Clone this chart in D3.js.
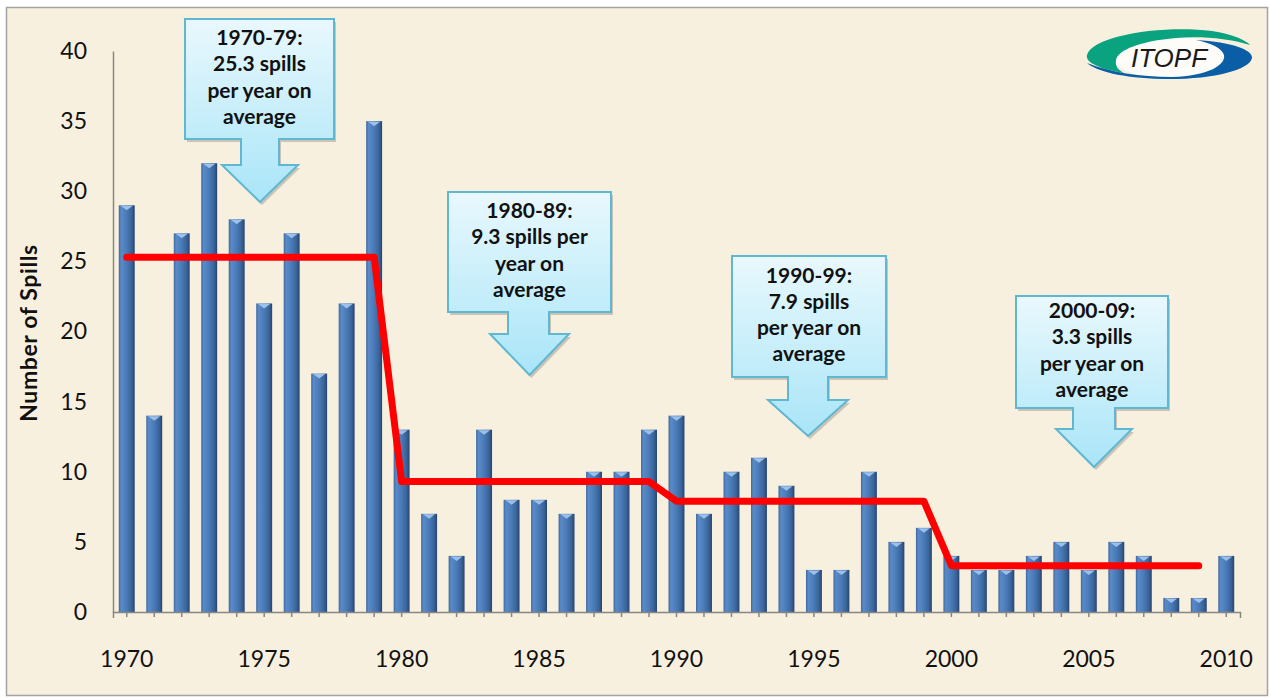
<!DOCTYPE html>
<html>
<head>
<meta charset="utf-8">
<script src="https://cdn.jsdelivr.net/npm/d3@7"></script>
<style>
  body { margin: 0; background: #fff; }
  svg { display: block; }
  text { font-family: Lato, "Open Sans", sans-serif; }
</style>
</head>
<body>
<svg id="chart" width="1271" height="698"></svg>
<script>
// data
const years = d3.range(1970, 2011);
const spills = [29, 14, 27, 32, 28, 22, 27, 17, 22, 35,
                13, 7, 4, 13, 8, 8, 7, 10, 10, 13,
                14, 7, 10, 11, 9, 3, 3, 10, 5, 6,
                4, 3, 3, 4, 5, 3, 5, 4, 1, 1,
                4];
const decadeStart = [1970, 1980, 1990, 2000];
const decadeEnd = [1979, 1989, 1999, 2009];
const decadeAvg = [25.3, 9.3, 7.9, 3.3];
const yTicks = [0, 5, 10, 15, 20, 25, 30, 35, 40];
const xLabelYears = [1970, 1975, 1980, 1985, 1990, 1995, 2000, 2005, 2010];
const calloutText = [
  ['1970-79:', '25.3 spills', 'per year on', 'average'],
  ['1980-89:', '9.3 spills per', 'year on', 'average'],
  ['1990-99:', '7.9 spills', 'per year on', 'average'],
  ['2000-09:', '3.3 spills', 'per year on', 'average']
];

// callout geometry (pixels): box, shaft, head
const calloutBoxes = [
  { l: 185, r: 334, t: 19, b: 139, sl: 241, sr: 279, sb: 165, hl: 222, hr: 298, tip: 202 },
  { l: 448, r: 611, t: 192, b: 312, sl: 508, sr: 549, sb: 334, hl: 490, hr: 569, tip: 375 },
  { l: 732, r: 886, t: 256, b: 377, sl: 788, sr: 828, sb: 400, hl: 768, hr: 848, tip: 436 },
  { l: 1016, r: 1168, t: 296, b: 408, sl: 1073, sr: 1115, sb: 429, hl: 1056, hr: 1132, tip: 467 }
];

const svg = d3.select('#chart');
const defs = svg.append('defs');

const barGrad = defs.append('linearGradient').attr('id', 'barGrad')
  .attr('x1', '0%').attr('x2', '100%').attr('y1', '0%').attr('y2', '0%');
[['0%', '#3f679c'], ['15%', '#5a8bc8'], ['45%', '#4c7dbb'], ['80%', '#3a6499'], ['100%', '#27456f']]
  .forEach(([o, c]) => barGrad.append('stop').attr('offset', o).attr('stop-color', c));

const boxGrad = defs.append('linearGradient').attr('id', 'boxGrad')
  .attr('x1', '0%').attr('x2', '0%').attr('y1', '0%').attr('y2', '100%');
[['0%', '#e9f8fd'], ['100%', '#a9e5f8']]
  .forEach(([o, c]) => boxGrad.append('stop').attr('offset', o).attr('stop-color', c));

// frame
svg.append('rect')
  .attr('x', 6.5).attr('y', 7.5).attr('width', 1261).attr('height', 688)
  .attr('fill', '#f8f0df').attr('stroke', '#a3a3a3').attr('stroke-width', 1.5);

const x = d3.scaleBand()
  .domain(years)
  .range([113, 1240])
  .paddingInner(0.42)
  .paddingOuter(0.21);

const y = d3.scaleLinear()
  .domain([0, 40])
  .range([612, 51]);

// y axis
const yAxis = svg.append('g')
  .attr('transform', 'translate(113,0)')
  .call(d3.axisLeft(y).tickValues(yTicks).tickSize(0).tickPadding(26));
yAxis.select('.domain').attr('stroke', '#868686').attr('stroke-width', 1.5);
yAxis.selectAll('text').attr('font-size', 23).attr('fill', '#111')
  .style('font-family', 'Lato, sans-serif');

svg.append('text')
  .attr('transform', 'translate(37,333) rotate(-90)')
  .attr('text-anchor', 'middle')
  .attr('font-size', 23)
  .attr('font-weight', 'bold')
  .attr('letter-spacing', 0.6)
  .attr('fill', '#111')
  .text('Number of Spills');

// bars
const bars = svg.append('g');
bars.selectAll('rect')
  .data(spills)
  .enter()
  .append('rect')
  .attr('x', (d, i) => x(years[i]))
  .attr('y', (d) => y(d))
  .attr('width', x.bandwidth())
  .attr('height', (d) => y(0) - y(d))
  .attr('fill', 'url(#barGrad)');

bars.selectAll('path.cap')
  .data(spills)
  .enter()
  .append('path')
  .attr('class', 'cap')
  .attr('fill', '#9cc0ea')
  .attr('d', (d, i) => {
    const l = x(years[i]);
    const w = x.bandwidth();
    const t = y(d);
    return `M${l + 2},${t + 0.5}H${l + w - 2}L${l + w / 2},${t + 5}Z`;
  });

// x axis
const xAxis = svg.append('g')
  .attr('transform', `translate(0,${y(0)})`)
  .call(d3.axisBottom(x)
    .tickSizeInner(5)
    .tickSizeOuter(6)
    .tickFormat((d) => (xLabelYears.includes(d) ? d : '')));
xAxis.select('.domain').attr('stroke', '#868686').attr('stroke-width', 1.5);
xAxis.selectAll('.tick line').attr('stroke', '#868686').attr('stroke-width', 1.5);
xAxis.selectAll('text')
  .attr('y', 39)
  .attr('font-size', 23)
  .attr('fill', '#111')
  .style('font-family', 'Lato, sans-serif');

// decade averages
const avgPoints = [];
decadeAvg.forEach((v, i) => {
  avgPoints.push([decadeStart[i], v]);
  avgPoints.push([decadeEnd[i], v]);
});

svg.append('path')
  .datum(avgPoints)
  .attr('fill', 'none')
  .attr('stroke', '#ff0000')
  .attr('stroke-width', 7)
  .attr('stroke-linejoin', 'round')
  .attr('stroke-linecap', 'round')
  .attr('d', d3.line()
    .x((d) => x(d[0]) + x.bandwidth() / 2)
    .y((d) => y(d[1])));

// callouts
calloutBoxes.forEach((c, i) => {
  const tipX = (c.hl + c.hr) / 2;
  const shape = `M${c.l},${c.t}H${c.r}V${c.b}H${c.sr}V${c.sb}H${c.hr}L${tipX},${c.tip}L${c.hl},${c.sb}H${c.sl}V${c.b}H${c.l}Z`;
  const g = svg.append('g');
  g.append('path')
    .attr('d', shape)
    .attr('transform', 'translate(2,3)')
    .attr('fill', '#000')
    .attr('opacity', 0.18);
  g.append('path')
    .attr('d', shape)
    .attr('fill', 'url(#boxGrad)')
    .attr('stroke', '#5fb7d2')
    .attr('stroke-width', 2)
    .attr('stroke-linejoin', 'miter');
  const lines = calloutText[i];
  const lh = 26.3;
  const mid = (c.t + c.b) / 2 - 2;
  g.append('text')
    .attr('text-anchor', 'middle')
    .attr('font-size', 21)
    .attr('font-weight', 'bold')
    .attr('fill', '#111')
    .selectAll('tspan')
    .data(lines)
    .enter()
    .append('tspan')
    .attr('x', (c.l + c.r) / 2)
    .attr('y', (d, k) => mid + (k - (lines.length - 1) / 2) * lh + 7.5)
    .text((d) => d);
});

// ITOPF logo
const logo = svg.append('g');
logo.append('ellipse')
  .attr('cx', 1168).attr('cy', 57).attr('rx', 56).attr('ry', 21)
  .attr('fill', '#fdfcf8');
logo.append('path')
  .attr('fill', '#0aa37f')
  .attr('d', 'M1087,55 C1093,36 1160,25 1212,31 C1232,34 1246,40 1250,45 C1228,38 1200,36 1176,38 C1140,41 1118,50 1116,60 C1115,66 1118,70 1124,73 C1101,69 1085,63 1087,55 Z');
logo.append('path')
  .attr('fill', '#0a5ea6')
  .attr('d', 'M1196,40 C1232,42 1253,50 1252,58 C1250,70 1212,80 1162,79 C1122,78 1096,71 1087,63 C1110,72 1140,77 1172,77 C1208,76 1226,65 1224,55 C1222,48 1211,43 1196,40 Z');
logo.append('text')
  .attr('x', 1169).attr('y', 67)
  .attr('text-anchor', 'middle')
  .attr('font-size', 26)
  .attr('font-style', 'italic')
  .attr('fill', '#1a1a1a')
  .style('font-family', '"Liberation Sans Narrow", "Liberation Sans", sans-serif')
  .style('font-weight', 'normal')
  .text('ITOPF');
</script>
</body>
</html>
